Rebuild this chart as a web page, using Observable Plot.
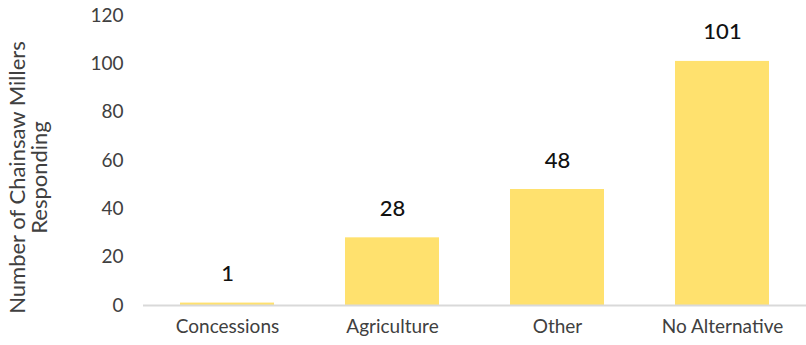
<!DOCTYPE html>
<html><head><meta charset="utf-8">
<script src="https://cdn.jsdelivr.net/npm/d3@7"></script>
<script src="https://cdn.jsdelivr.net/npm/@observablehq/plot@0.6"></script>
<style>body{margin:0;background:#fff}</style>
</head><body><div id="chart"></div>
<script>
const categories = ["Concessions", "Agriculture", "Other", "No Alternative"];
const values = [1, 28, 48, 101];
const yTicks = [0, 20, 40, 60, 80, 100, 120];
const yLabel = "Number of Chainsaw Millers\nResponding";

const data = categories.map((c, i) => ({category: c, value: values[i]}));

const chart = Plot.plot({
  width: 806, height: 345,
  marginLeft: 143, marginRight: 0, marginTop: 15, marginBottom: 40,
  style: {fontFamily: "Lato, sans-serif", background: "#fff"},
  x: {domain: categories, paddingInner: 0.43, paddingOuter: 0.215, label: null},
  y: {domain: [0, 120], label: null},
  marks: [
    Plot.barY(data, {x: "category", y: "value", fill: "#FFE16E"}),
    Plot.ruleY([0], {stroke: "#d9d9d9", strokeWidth: 2}),
    Plot.axisX({tickSize: 0, tickPadding: 14, fontSize: 19, fill: "#404040", fontWeight: 400}),
    Plot.axisY({ticks: yTicks, tickSize: 0, tickPadding: 20, fontSize: 19, fill: "#404040", fontWeight: 400, label: null}),
    Plot.text(data, {x: "category", y: "value", text: d => String(d.value), dy: -29, fontSize: 22, fill: "#111", fontWeight: 500}),
    Plot.text([yLabel], {frameAnchor: "left", dx: -115, dy: 17, rotate: -90, text: d => d, fontSize: 22, fill: "#404040", fontWeight: 400, lineAnchor: "middle", textAnchor: "middle"})
  ]
});
document.getElementById("chart").appendChild(chart);
</script></body></html>
